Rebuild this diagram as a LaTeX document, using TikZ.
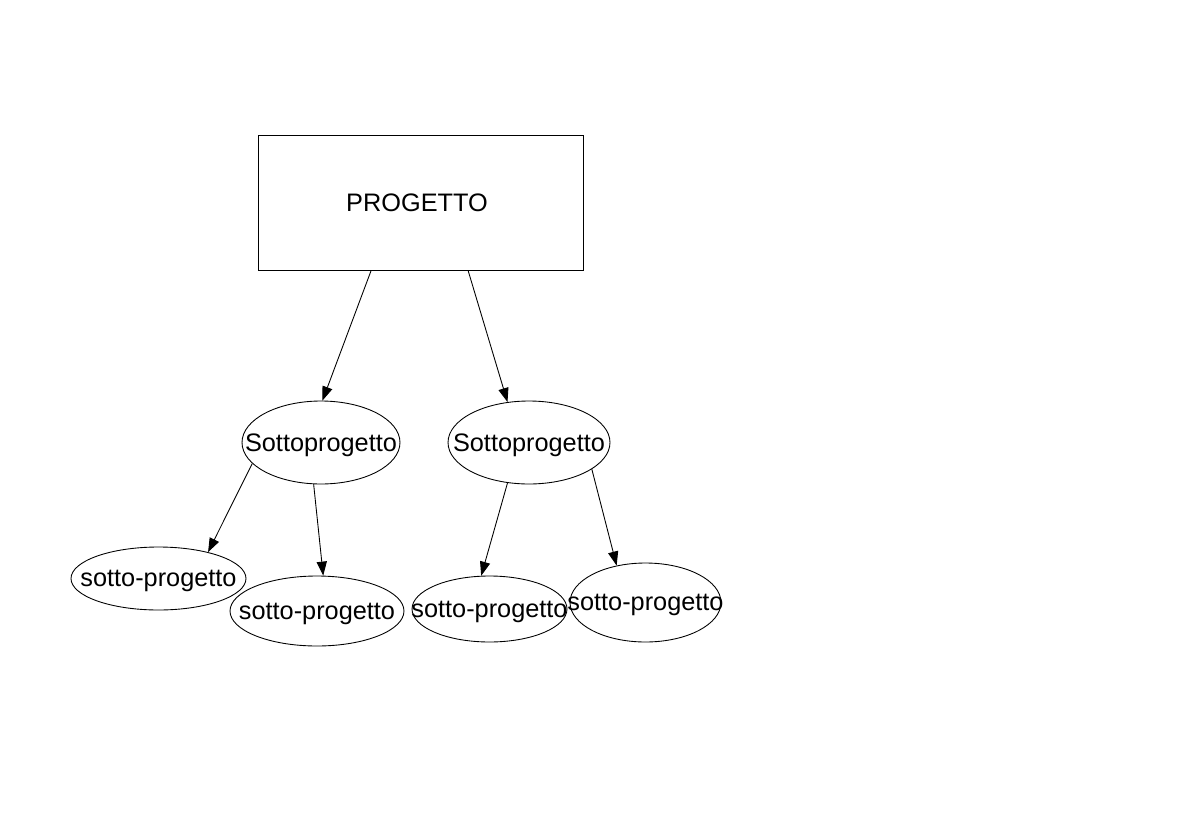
\documentclass[tikz,border=0pt]{standalone}
\usepackage{fontspec}
\setmainfont{Liberation Sans}
\usepackage{tikz}
\usetikzlibrary{shapes.geometric,arrows.meta}

\tikzset{
  progbox/.style={draw, rectangle, inner sep=0pt, minimum width=6.5cm, minimum height=2.7cm},
  sub/.style={draw, ellipse, inner sep=0pt},
  subtext/.style={label={[yshift=-1.6pt]center:#1}},
  freccia/.style={-{Triangle[length=8pt,width=5.8pt]}, line width=0.5pt}
}

\begin{document}
\begin{tikzpicture}[x=0.02cm, y=-0.02cm, font=\fontsize{14.4}{17}\selectfont, line width=0.5pt]
\useasboundingbox (0,0) rectangle (1177,832);

\node[progbox] (prog) at (420.5,202.5) {};
\node at (417,203) {PROGETTO};

\node[sub, minimum width=3.16cm, minimum height=1.66cm, subtext=Sottoprogetto] (s1) at (321,442.5) {};
\node[sub, minimum width=3.24cm, minimum height=1.66cm, subtext=Sottoprogetto] (s2) at (529,442.5) {};

\node[sub, minimum width=3.5cm, minimum height=1.26cm, subtext=sotto-progetto] (s11) at (158.5,578.5) {};
\node[sub, minimum width=3.48cm, minimum height=1.4cm, subtext=sotto-progetto] (s12) at (317,611) {};
\node[sub, minimum width=3.1cm, minimum height=1.32cm, subtext=sotto-progetto] (s21) at (489.5,609) {};
\node[sub, minimum width=3.02cm, minimum height=1.58cm, subtext=sotto-progetto] (s22) at (645.5,602.5) {};

\draw[freccia] (prog.234.9) -- (s1.88);
\draw[freccia] (prog.305.1) -- (s2.118);

\draw[freccia] (s1.197) -- (s11.28);
\draw[freccia] (s1.260) -- (s12.80);
\draw[freccia] (s2.242) -- (s21.104);
\draw[freccia] (s2.337.6) -- (s22.128);

\end{tikzpicture}
\end{document}
